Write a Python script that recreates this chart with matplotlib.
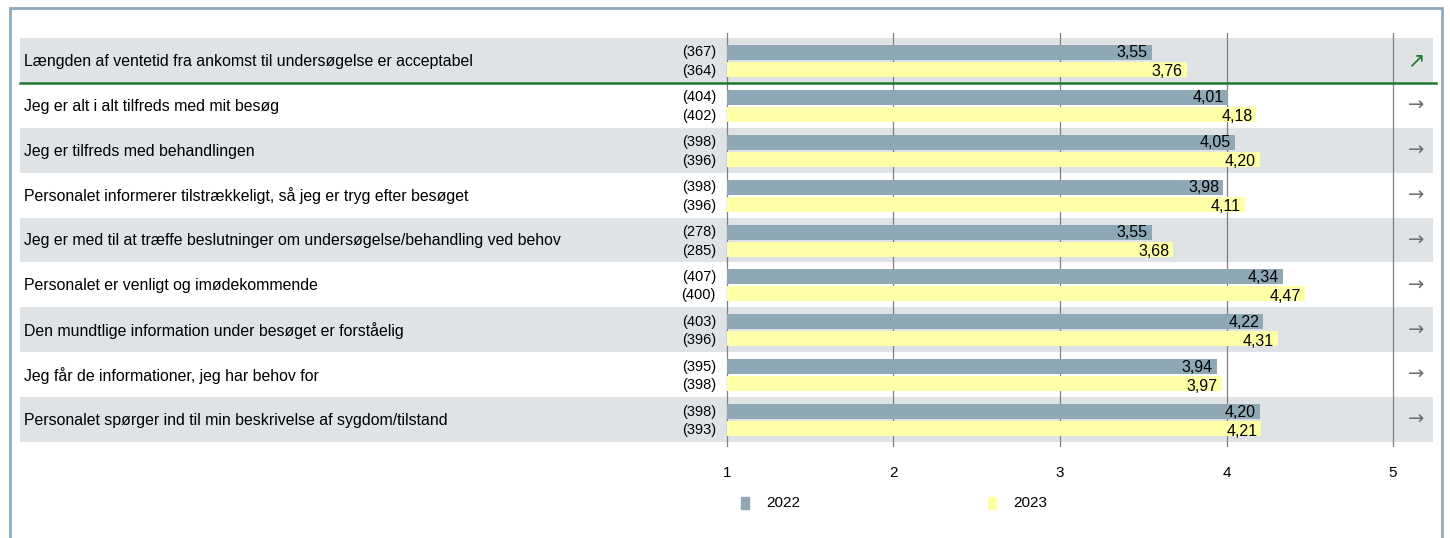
import matplotlib
matplotlib.use("Agg")
import matplotlib.pyplot as plt
from matplotlib.patches import Rectangle

plt.rcParams['font.family'] = ['Liberation Sans', 'DejaVu Sans']

questions = [
    "Længden af ventetid fra ankomst til undersøgelse er acceptabel",
    "Jeg er alt i alt tilfreds med mit besøg",
    "Jeg er tilfreds med behandlingen",
    "Personalet informerer tilstrækkeligt, så jeg er tryg efter besøget",
    "Jeg er med til at træffe beslutninger om undersøgelse/behandling ved behov",
    "Personalet er venligt og imødekommende",
    "Den mundtlige information under besøget er forståelig",
    "Jeg får de informationer, jeg har behov for",
    "Personalet spørger ind til min beskrivelse af sygdom/tilstand",
]
n_2022 = [367, 404, 398, 398, 278, 407, 403, 395, 398]
n_2023 = [364, 402, 396, 396, 285, 400, 396, 398, 393]
val_2022 = [3.55, 4.01, 4.05, 3.98, 3.55, 4.34, 4.22, 3.94, 4.20]
val_2023 = [3.76, 4.18, 4.20, 4.11, 3.68, 4.47, 4.31, 3.97, 4.21]
trend = ["up", "flat", "flat", "flat", "flat", "flat", "flat", "flat", "flat"]
years = ["2022", "2023"]
xticks = [1, 2, 3, 4, 5]

W, H = 1450, 538
fig = plt.figure(figsize=(W / 100, H / 100), dpi=100)

def fx(px):
    return px / W

def fy(py):
    return 1 - py / H

ax_left, ax_right, ax_top, ax_bot = 20, 1433, 33, 447
ax = fig.add_axes([fx(ax_left), fy(ax_bot), fx(ax_right - ax_left), (ax_bot - ax_top) / H])
ppu = 166.5
x1px = 727
xmin = 1 - (x1px - ax_left) / ppu
xmax = 1 + (ax_right - x1px) / ppu
ax.set_xlim(xmin, xmax)
rowpx = 44.9
nrow = len(questions)
ax.set_ylim(nrow + 5 / rowpx, -5 / rowpx)
for s in ax.spines.values():
    s.set_visible(False)
ax.set_yticks([])
ax.set_xticks(xticks)
ax.set_xticklabels([str(t) for t in xticks], fontsize=11)
ax.tick_params(axis='x', length=0, pad=14)

band = "#e0e3e6"
c22 = "#8fa8b6"
c23 = "#ffffa8"

for i in range(nrow):
    if i % 2 == 0:
        ax.axhspan(i, i + 1, color=band, zorder=0, lw=0)

for t in xticks:
    ax.axvline(t, color="#808080", lw=0.9, zorder=1)

bh = 15 / rowpx
y22 = [i + 14.5 / rowpx for i in range(nrow)]
y23 = [i + 31.5 / rowpx for i in range(nrow)]
ax.barh(y22, [v - 1 for v in val_2022], left=1, height=bh, color=c22, zorder=2)
ax.barh(y23, [v - 1 for v in val_2023], left=1, height=bh, color=c23, zorder=2)

fs_q = 11.4
fs_n = 10.5
fs_v = 11.5
for i in range(nrow):
    ax.text(-3.222, i + 0.52, questions[i], ha='left', va='center', fontsize=fs_q, zorder=3)
    ax.text(1 - 11 / ppu, y22[i], f"({n_2022[i]})", ha='right', va='center', fontsize=fs_n, zorder=3)
    ax.text(1 - 11 / ppu, y23[i] + 1.5 / rowpx, f"({n_2023[i]})", ha='right', va='center', fontsize=fs_n, zorder=3)
    ax.text(val_2022[i] - 4 / ppu, y22[i] + 0.5 / rowpx, f"{val_2022[i]:.2f}".replace('.', ','),
            ha='right', va='center', fontsize=fs_v, zorder=3)
    ax.text(val_2023[i] - 4 / ppu, y23[i] + 2.5 / rowpx, f"{val_2023[i]:.2f}".replace('.', ','),
            ha='right', va='center', fontsize=fs_v, zorder=3)
    if trend[i] == "up":
        ax.text(1 + (1416 - x1px) / ppu, i + 0.5, "↗", ha='center', va='center',
                fontsize=15, color="#1a7a2e", family=['DejaVu Sans'], zorder=3)
    else:
        ax.text(1 + (1416 - x1px) / ppu, i + 0.5, "→", ha='center', va='center',
                fontsize=14, color="#6e6e6e", family=['DejaVu Sans'], zorder=3)

ax.plot([xmin, 1 + (1436 - x1px) / ppu], [1, 1], color="#1e7b30", lw=1.8, zorder=4, clip_on=False)

fig.patches.append(Rectangle((fx(741), fy(509)), fx(8), 12 / H, transform=fig.transFigure,
                             color=c22, figure=fig))
fig.text(fx(766), fy(503), years[0], ha='left', va='center', fontsize=11)
fig.patches.append(Rectangle((fx(988), fy(509)), fx(8), 12 / H, transform=fig.transFigure,
                             color=c23, figure=fig))
fig.text(fx(1013), fy(503), years[1], ha='left', va='center', fontsize=11)

fig.patches.append(Rectangle((fx(10), fy(545)), fx(1432), 537 / H, transform=fig.transFigure,
                             fill=False, edgecolor="#8ea9bd", lw=2.0, figure=fig))

fig.savefig("out.png", dpi=100)
